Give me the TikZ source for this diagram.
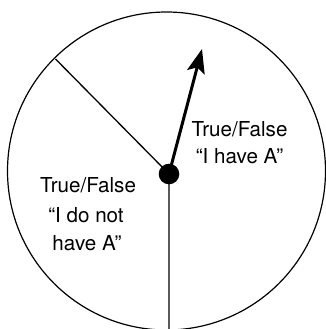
\documentclass[tikz,border=0pt]{standalone}
\usepackage{fontspec}
\setmainfont{TeX Gyre Heros}
\usetikzlibrary{arrows.meta}
\begin{document}
\begin{tikzpicture}[x=1pt,y=-1pt,
  lbl/.style={font=\fontsize{20.6}{28}\selectfont, anchor=base, inner sep=0pt},
  rim/.style={draw=black, line width=1.2pt},
  spoke/.style={draw=black, line width=1.3pt},
  pointer/.style={draw=black, line width=3pt, -{Stealth[length=24pt,width=18pt,inset=5pt]}},
  stem/.style={draw=black!65, line width=2pt}]
\useasboundingbox (0,0) rectangle (326,329);
\draw[rim] (166.5,171) circle[radius=159];
\coordinate (hub) at (169,174);
\coordinate (ul) at (55.5,59);
\coordinate (tip) at (202,49);
\coordinate (bot) at (169,331);
\draw[stem] (hub) -- (bot);
\draw[spoke] (hub) -- (ul);
\draw[pointer] (hub) -- (tip);
\fill[black] (hub) circle[radius=10.3];
\node[lbl] (r1) at (239.5,136) {True/False};
\node[lbl] (r2) at (239.5,163.5) {“I have A”};
\node[lbl] (l1) at (88,192.5) {True/False};
\node[lbl] (l2) at (86,222) {“I do not};
\node[lbl] (l3) at (87,250.5) {have A”};
\end{tikzpicture}
\end{document}
